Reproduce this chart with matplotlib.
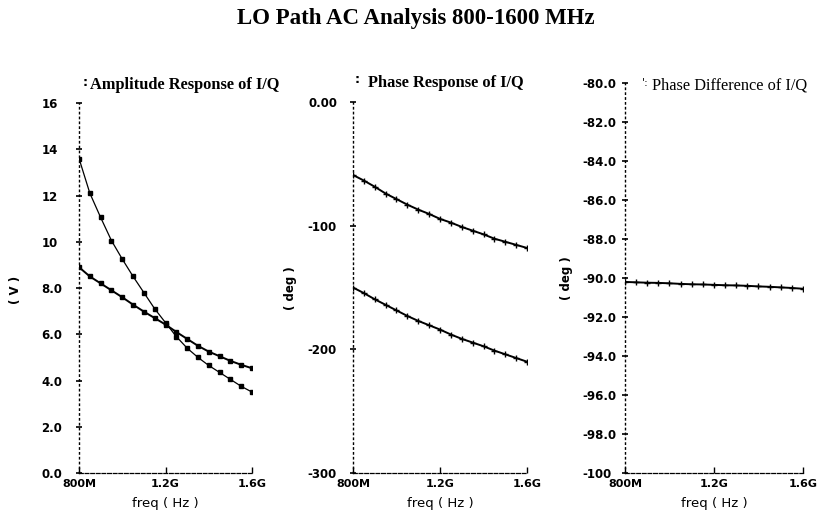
import numpy as np
import matplotlib.pyplot as plt

# sweep points, MHz
freq = [800, 850, 900, 950, 1000, 1050, 1100, 1150, 1200,
        1250, 1300, 1350, 1400, 1450, 1500, 1550, 1600]

# amplitude response (V)
amp_1 = [13.6, 12.1, 11.05, 10.05, 9.25, 8.5, 7.8, 7.1, 6.5,
         5.9, 5.4, 5.0, 4.65, 4.35, 4.05, 3.75, 3.5]
amp_2 = [8.9, 8.5, 8.2, 7.9, 7.6, 7.28, 6.98, 6.7, 6.42,
         6.1, 5.8, 5.5, 5.25, 5.05, 4.85, 4.68, 4.53]

# phase response (deg)
phase_1 = [-59, -63.5, -68.5, -74, -78.5, -83, -87, -90.5, -94.5,
           -97.5, -101, -104, -107, -110.5, -113, -115.5, -118]
phase_2 = [-150, -154.5, -159.5, -164, -168.5, -173, -177, -180.5, -184,
           -188, -191.5, -194.5, -197.5, -201, -204, -207, -210]

# phase difference (deg)
phase_diff = [-90.20, -90.22, -90.24, -90.25, -90.27, -90.30, -90.32, -90.33, -90.35,
              -90.37, -90.38, -90.40, -90.43, -90.45, -90.48, -90.51, -90.55]

amp_ticks = [0, 2, 4, 6, 8, 10, 12, 14, 16]
amp_labels = ['0.0', '2.0', '4.0', '6.0', '8.0', '10', '12', '14', '16']
ph_ticks = [0, -100, -200, -300]
ph_labels = ['0.00', '-100', '-200', '-300']
diff_ticks = [-80, -82, -84, -86, -88, -90, -92, -94, -96, -98, -100]
diff_labels = ['-80.0', '-82.0', '-84.0', '-86.0', '-88.0', '-90.0',
               '-92.0', '-94.0', '-96.0', '-98.0', '-100']
x_ticks = [800, 1200, 1600]
x_labels = ['800M', '1.2G', '1.6G']

fig = plt.figure(figsize=(8.19, 5.19), dpi=100)

ax1 = fig.add_axes([0.0965, 0.0886, 0.2112, 0.7129])
ax2 = fig.add_axes([0.4310, 0.0886, 0.2125, 0.7148])
ax3 = fig.add_axes([0.7631, 0.0886, 0.2173, 0.7514])


def style_axis(ax, yticks, ylabels, ylim, pad, ha):
    ax.set_xlim(800, 1600)
    ax.set_ylim(*ylim)
    for s in ['top', 'right']:
        ax.spines[s].set_visible(False)
    ax.spines['left'].set_linestyle((0, (1, 2.5)))
    ax.spines['left'].set_linewidth(1.0)
    ax.spines['bottom'].set_linestyle((0, (3, 1.5)))
    ax.spines['bottom'].set_linewidth(0.9)
    ax.set_xticks(x_ticks)
    ax.set_xticklabels(x_labels, fontsize=8, fontweight='bold', family='DejaVu Sans')
    ax.set_yticks(yticks)
    ax.set_yticklabels(ylabels, fontsize=8.5, fontweight='bold', family='DejaVu Sans')
    ax.tick_params(axis='x', direction='in', length=4, width=1, pad=4)
    ax.tick_params(axis='y', direction='inout', length=4, width=1.2, pad=pad)
    plt.setp(ax.get_yticklabels(), ha=ha)
    ax.set_xlabel('freq ( Hz )', fontsize=9.5, labelpad=6)
    ax.patch.set_alpha(0)


style_axis(ax1, amp_ticks, amp_labels, (0, 16), 25, 'left')
style_axis(ax2, ph_ticks, ph_labels, (-300, 0), 9.5, 'right')
style_axis(ax3, diff_ticks, diff_labels, (-100, -80), 29, 'left')

ax1.plot(freq, amp_1, color='black', lw=0.9, marker='s', ms=2.2)
ax1.plot(freq, amp_2, color='black', lw=1.4, marker='s', ms=2.4)
ax2.plot(freq, phase_1, color='black', lw=1.4, marker='+', ms=4, mew=1)
ax2.plot(freq, phase_2, color='black', lw=1.4, marker='+', ms=4, mew=1)
ax3.plot(freq, phase_diff, color='black', lw=1.4, marker='+', ms=4, mew=1)

fig.text(0.508, 0.965, 'LO Path AC Analysis 800-1600 MHz', ha='center', va='center',
         fontsize=16.5, fontweight='bold', family='Liberation Serif')

fig.text(0.110, 0.836, 'Amplitude Response of I/Q', ha='left', va='center',
         fontsize=11.8, fontweight='bold', family='Liberation Serif')
fig.text(0.449, 0.840, 'Phase Response of I/Q', ha='left', va='center',
         fontsize=11.8, fontweight='bold', family='Liberation Serif')
fig.text(0.796, 0.836, 'Phase Difference of I/Q', ha='left', va='center',
         fontsize=11.8, family='Liberation Serif')

# legend-symbol marks next to the panel titles
fig.text(0.101, 0.842, ':', ha='left', va='center', fontsize=9, fontweight='bold')
fig.text(0.433, 0.846, ':', ha='left', va='center', fontsize=9, fontweight='bold')
fig.text(0.784, 0.840, "':", ha='left', va='center', fontsize=8)

fig.text(0.019, 0.441, '( V )', rotation=90, ha='center', va='center', fontsize=8.5, fontweight='bold')
fig.text(0.355, 0.445, '( deg )', rotation=90, ha='center', va='center', fontsize=8.5, fontweight='bold')
fig.text(0.692, 0.464, '( deg )', rotation=90, ha='center', va='center', fontsize=8.5, fontweight='bold')

fig.savefig('out.png', dpi=100)
